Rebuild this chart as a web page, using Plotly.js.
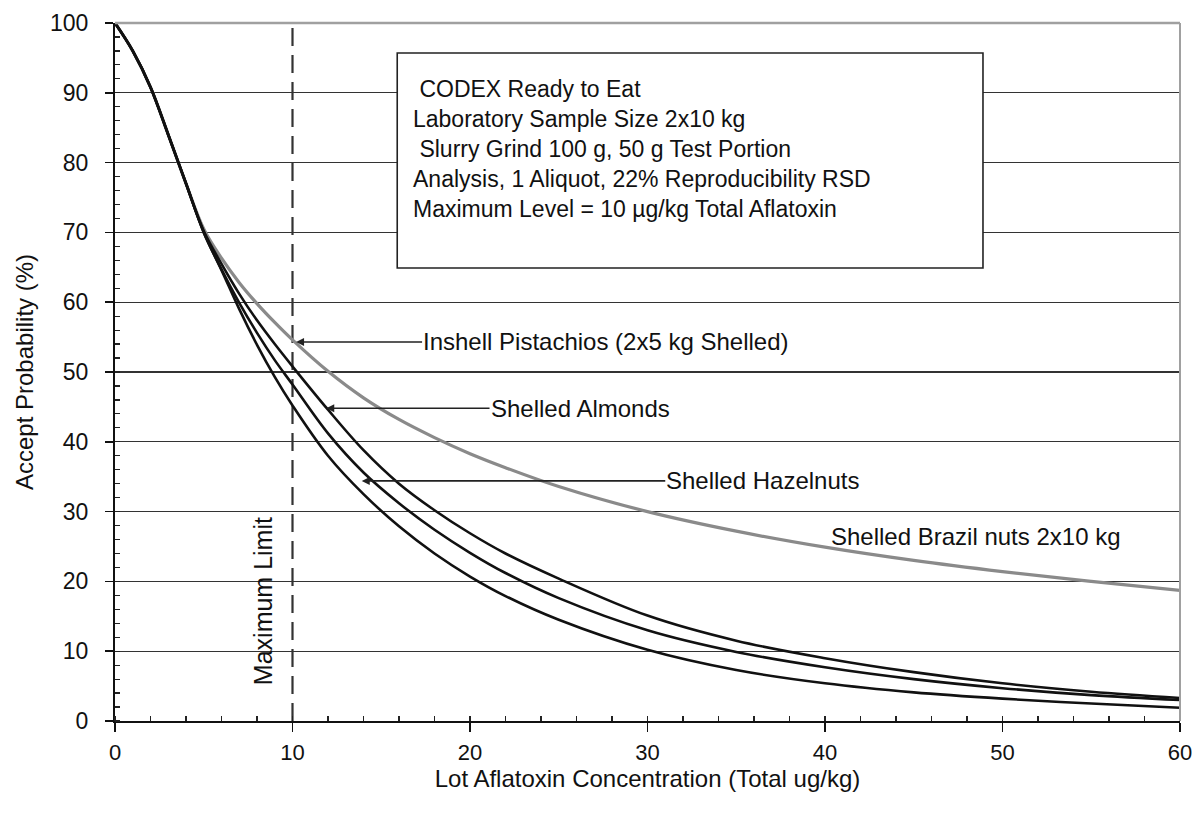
<!DOCTYPE html>
<html>
<head>
<meta charset="utf-8">
<script src="https://cdn.plot.ly/plotly-3.0.1.min.js"></script>
<style>
html,body{margin:0;padding:0;background:#fff;}
#chart{width:1197px;height:814px;}
</style>
</head>
<body>
<div id="chart"></div>
<script>
// Lot concentration (Total ug/kg)
const xConc = [0,1,2,3,4,5,6,7,8,9,10,12,14,16,18,20,22,25,30,35,40,45,50,55,60];
// Accept probability (%)
const brazilNuts = [100,96,90.8,84,77,70.5,66.3,62.8,59.8,57.1,54.6,50.1,46.3,43.2,40.6,38.3,36.3,33.6,30.0,27.2,24.9,23.0,21.4,20.0,18.7];
const almonds    = [100,96,90.8,84,77,70.2,65.5,61.2,57.4,54.0,50.8,44.6,38.8,34.0,30.2,26.9,24.0,20.4,15.1,11.5,9.0,7.0,5.4,4.2,3.3];
const hazelnuts  = [100,96,90.8,84,77,70.0,64.7,59.9,55.6,51.7,48.2,41.2,35.6,31.2,27.4,24.1,21.2,17.6,13.0,9.9,7.7,6.0,4.7,3.7,3.0];
const pistachios = [100,96,90.8,84,77,70.0,64.6,59.0,53.9,49.3,45.2,38.0,32.5,27.9,24.0,20.7,17.9,14.5,10.2,7.3,5.4,4.1,3.2,2.5,1.9];

const maxLimit = 10;
const yTicks = [0,10,20,30,40,50,60,70,80,90,100];
const xTicks = [0,10,20,30,40,50,60];

const boxLines = [
  "\u00a0CODEX Ready to Eat",
  "Laboratory Sample Size 2x10 kg",
  "\u00a0Slurry Grind 100 g, 50 g Test Portion",
  "Analysis, 1 Aliquot, 22% Reproducibility RSD",
  "Maximum Level = 10 µg/kg Total Aflatoxin"
];

const FONT = "Liberation Sans, Arial, sans-serif";
const FS = 24;

const traces = [
  {x:xConc, y:brazilNuts, name:"Shelled Brazil nuts 2x10 kg", mode:"lines",
   line:{color:"#8a8a8a", width:3.2, shape:"spline", smoothing:1}},
  {x:xConc, y:almonds, name:"Shelled Almonds", mode:"lines",
   line:{color:"#111", width:2.6, shape:"spline", smoothing:1}},
  {x:xConc, y:hazelnuts, name:"Shelled Hazelnuts", mode:"lines",
   line:{color:"#111", width:2.6, shape:"spline", smoothing:1}},
  {x:xConc, y:pistachios, name:"Inshell Pistachios", mode:"lines",
   line:{color:"#111", width:2.6, shape:"spline", smoothing:1}}
];

const annotations = [];
annotations.push({x:16.65, y:81.9, xref:"x", yref:"y", text:boxLines.join("<br>"),
  showarrow:false, xanchor:"left", yanchor:"middle", align:"left",
  font:{family:FONT, size:23, color:"#111"}});
function arrowLabel(text, tipX, tipY, txtX, txtY){
  annotations.push({x:tipX, y:tipY, xref:"x", yref:"y", ax:txtX, ay:txtY,
    axref:"x", ayref:"y", text:text, showarrow:true, arrowhead:2, arrowsize:1,
    arrowwidth:1.6, arrowcolor:"#222", xanchor:"left", yanchor:"middle",
    standoff:0, borderpad:0,
    font:{family:FONT, size:FS, color:"#111"}});
}
arrowLabel("Inshell Pistachios (2x5 kg Shelled)", 10.2, 54.3, 17.3, 54.3);
arrowLabel("Shelled Almonds", 11.9, 44.8, 21.1, 44.8);
arrowLabel("Shelled Hazelnuts", 13.9, 34.4, 31.0, 34.4);
annotations.push({x:40.25, y:26.4, xref:"x", yref:"y", text:"Shelled Brazil nuts 2x10 kg",
  showarrow:false, xanchor:"left", yanchor:"middle",
  font:{family:FONT, size:FS, color:"#111"}});
annotations.push({x:8.35, y:17.2, xref:"x", yref:"y", text:"Maximum Limit",
  showarrow:false, textangle:-90, xanchor:"center", yanchor:"middle",
  font:{family:FONT, size:25, color:"#111"}});

const shapes = [
  {type:"line", xref:"x", yref:"y", x0:maxLimit, x1:maxLimit, y0:0, y1:99.5,
   line:{color:"#333", width:2.2, dash:"18px,9px"}, layer:"below"},
  {type:"rect", xref:"x", yref:"y", x0:15.9, x1:48.9, y0:64.9, y1:95.7,
   fillcolor:"#fff", line:{color:"#222", width:1.6}, layer:"above"},
  {type:"line", xref:"paper", yref:"paper", x0:0, x1:1, y0:1, y1:1,
   line:{color:"#a0a0a0", width:2.5}, layer:"above"},
  {type:"line", xref:"paper", yref:"paper", x0:1, x1:1, y0:0, y1:1,
   line:{color:"#a0a0a0", width:2}, layer:"above"}
];

const layout = {
  width:1197, height:814,
  margin:{l:115, r:17, t:23, b:93},
  paper_bgcolor:"#fff", plot_bgcolor:"#fff",
  showlegend:false,
  font:{family:FONT, size:FS, color:"#111"},
  xaxis:{range:[0,60], tickvals:xTicks, ticktext:xTicks.map(String),
    showgrid:false, zeroline:false, showline:true, linecolor:"#111", linewidth:2,
    ticks:"outside", ticklen:9, tickwidth:1.5, tickcolor:"#111",
    ticklabelstandoff:2,
    minor:{dtick:2, ticks:"inside", ticklen:5, tickwidth:1.2, tickcolor:"#222", showgrid:false},
    tickfont:{family:FONT, size:22, color:"#111"},
    title:{text:"Lot Aflatoxin Concentration (Total ug/kg)", standoff:0,
      font:{family:FONT, size:24, color:"#111"}}},
  yaxis:{range:[0,100], tickvals:yTicks, ticktext:yTicks.map(String),
    showgrid:true, gridcolor:"#333", gridwidth:1.2,
    zeroline:false, showline:true, linecolor:"#111", linewidth:2,
    ticks:"outside", ticklen:8, tickwidth:1.5, tickcolor:"#111",
    ticklabelstandoff:12,
    minor:{dtick:2, ticks:"inside", ticklen:5, tickwidth:1.2, tickcolor:"#222", showgrid:false},
    tickfont:{family:FONT, size:23, color:"#111"},
    title:{text:"Accept Probability (%)", standoff:10,
      font:{family:FONT, size:24, color:"#111"}}},
  shapes:shapes,
  annotations:annotations
};

Plotly.newPlot("chart", traces, layout, {displayModeBar:false, staticPlot:true});
</script>
</body>
</html>
